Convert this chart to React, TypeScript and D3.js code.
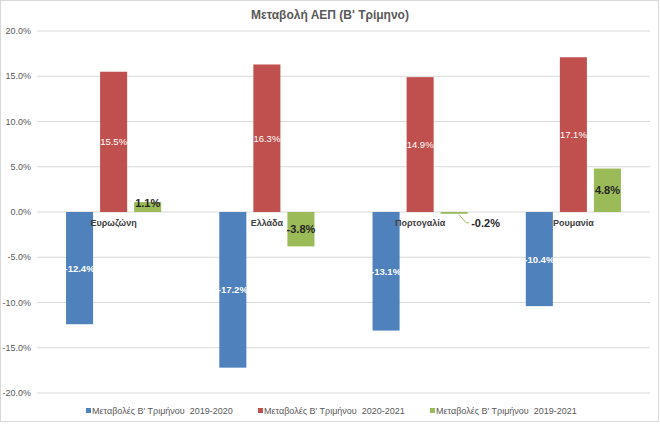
import React from "react";
import * as d3 from "d3";

const categories = ["Ευρωζώνη", "Ελλάδα", "Πορτογαλία", "Ρουμανία"];
const seriesNames = [
  "Μεταβολές Β' Τριμήνου  2019-2020",
  "Μεταβολές Β' Τριμήνου  2020-2021",
  "Μεταβολές Β' Τριμήνου  2019-2021",
];
const s2019_2020 = [-12.4, -17.2, -13.1, -10.4];
const s2020_2021 = [15.5, 16.3, 14.9, 17.1];
const s2019_2021 = [1.1, -3.8, -0.2, 4.8];
const yTicks = [-20, -15, -10, -5, 0, 5, 10, 15, 20];
const title = "Μεταβολή ΑΕΠ (Β' Τρίμηνο)";

const colors = ["#4F81BD", "#C0504D", "#9BBB59"];
const W = 660;
const H = 424;
const FONT = "'Liberation Sans', Arial, sans-serif";

export default function App() {
  const series = [s2019_2020, s2020_2021, s2019_2021];
  const y = d3.scaleLinear().domain([-20, 20]).range([393, 31]);
  const x = d3.scaleBand().domain(categories).range([37, 650]).paddingInner(0).paddingOuter(0);
  const xi = d3
    .scaleBand()
    .domain(seriesNames)
    .range([0, x.bandwidth()])
    .paddingInner(0.206)
    .paddingOuter(0.853);
  const fmt = (v: number) => v.toFixed(1) + "%";

  return (
    <svg width={W} height={H} style={{ position: "absolute", left: 0, top: 0, fontFamily: FONT }}>
      <rect x={0.5} y={0.5} width={W - 2} height={H - 3} fill="#fff" stroke="#d9d9d9" />
      <text x={330} y={19} textAnchor="middle" fontSize={12} fontWeight="bold" fill="#595959">
        {title}
      </text>
      {yTicks.map((t) => (
        <g key={t}>
          <line x1={37} x2={650} y1={y(t)} y2={y(t)} stroke="#d9d9d9" strokeWidth={1} />
          <text x={31} y={y(t) + 3} textAnchor="end" fontSize={9} fill="#595959">
            {fmt(t)}
          </text>
        </g>
      ))}
      {series.map((vals, si) =>
        vals.map((v, ci) => {
          const bx = (x(categories[ci]) as number) + (xi(seriesNames[si]) as number);
          const bw = xi.bandwidth();
          const top = y(Math.max(0, v));
          const h = Math.abs(y(v) - y(0));
          return (
            <rect key={`${si}-${ci}`} x={bx} y={top} width={bw} height={h} fill={colors[si]} />
          );
        })
      )}
      {categories.map((c) => (
        <text
          key={c}
          x={(x(c) as number) + x.bandwidth() / 2}
          y={y(0) + 14}
          textAnchor="middle"
          fontSize={9}
          fontWeight="bold"
          fill="#404040"
        >
          {c}
        </text>
      ))}
      {series.map((vals, si) =>
        vals.map((v, ci) => {
          const bx = (x(categories[ci]) as number) + (xi(seriesNames[si]) as number);
          const cx = bx + xi.bandwidth() / 2;
          const mid = (y(v) + y(0)) / 2;
          if (si === 0) {
            return (
              <text key={`l${si}-${ci}`} x={cx} y={mid + 3.5} textAnchor="middle" fontSize={9.5} fontWeight="bold" fill="#fff">
                {fmt(v)}
              </text>
            );
          }
          if (si === 1) {
            return (
              <text key={`l${si}-${ci}`} x={cx} y={mid + 3.5} textAnchor="middle" fontSize={9.5} fill="#fff">
                {fmt(v)}
              </text>
            );
          }
          if (Math.abs(v) < 1) {
            const ex = cx + 5;
            const ey = y(v) + 1;
            return (
              <g key={`l${si}-${ci}`}>
                <polyline
                  points={`${ex},${ey} ${ex + 7},${ey + 8} ${ex + 10},${ey + 8}`}
                  fill="none"
                  stroke="#9BBB59"
                  strokeWidth={1}
                />
                <text x={ex + 12} y={ey + 12} fontSize={11} fontWeight="bold" fill="#262626">
                  {fmt(v)}
                </text>
              </g>
            );
          }
          const ly = v > 0 && v < 2 ? y(v) + 5 : mid + 4;
          return (
            <text key={`l${si}-${ci}`} x={cx} y={ly} textAnchor="middle" fontSize={11} fontWeight="bold" fill="#262626">
              {fmt(v)}
            </text>
          );
        })
      )}
      {seriesNames.map((n, i) => (
        <g key={n} transform={`translate(${86 + i * 172},411)`}>
          <rect x={0} y={-3} width={5} height={5} fill={colors[i]} />
          <text x={6} y={3} fontSize={9} fill="#595959" style={{ whiteSpace: "pre" }}>
            {n}
          </text>
        </g>
      ))}
    </svg>
  );
}
